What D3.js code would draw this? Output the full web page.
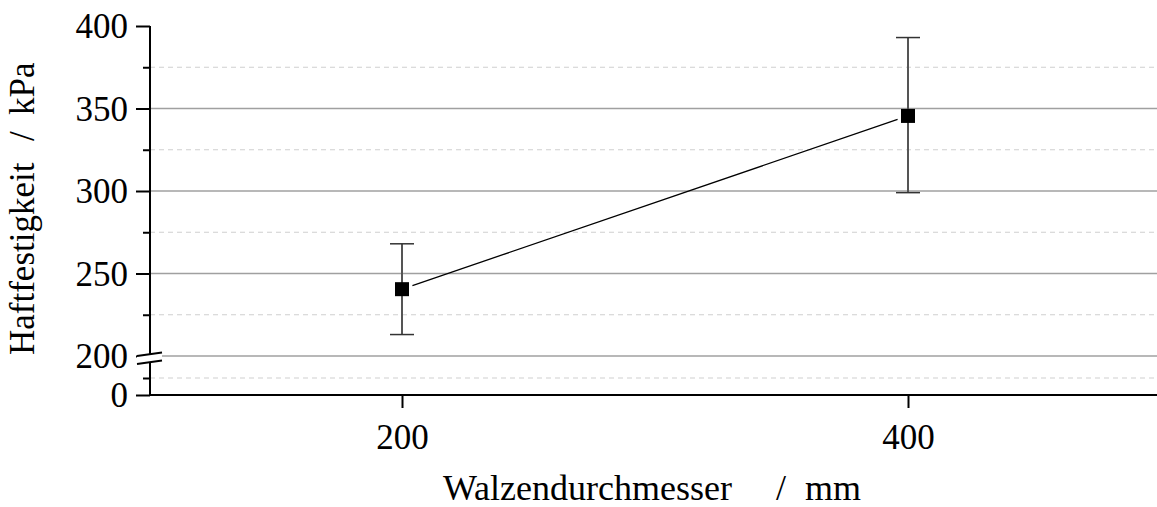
<!doctype html>
<html>
<head>
<meta charset="UTF-8">
<title>Haftfestigkeit</title>
<script src="https://d3js.org/d3.v7.min.js"></script>
<style>
  body { margin: 0; background: #fff; }
  text { font-family: "Liberation Serif", "Times New Roman", serif; fill: #000; }
</style>
</head>
<body>
<svg id="chart" width="1157" height="507"></svg>
<script>
// data
var durchmesser = [200, 400];
var festigkeit = [240.5, 345.5];
var fehlerOben = [268, 393];
var fehlerUnten = [213, 299];

var xTicks = [200, 400];
var yTicksOben = [200, 250, 300, 350, 400];
var yMinorOben = [225, 275, 325, 375];
var yTicksUnten = [0];
var yMinorUnten = [25];

var svg = d3.select("#chart");

var x = d3.scaleLinear().domain([100, 500]).range([149, 1161]);
var yOben = d3.scaleLinear().domain([200, 400]).range([356, 26]);
var yUnten = d3.scaleLinear().domain([0, 50]).range([395, 361]);

var left = 150, bottom = 395;

// grid upper part
svg.append("g").selectAll("line").data(yTicksOben.slice(0, 4))
  .join("line")
  .attr("x1", left).attr("x2", 1157)
  .attr("y1", d => yOben(d)).attr("y2", d => yOben(d))
  .attr("stroke", "#a0a0a0").attr("stroke-width", 1.3);

svg.append("g").selectAll("line").data(yMinorOben)
  .join("line")
  .attr("x1", left).attr("x2", 1157)
  .attr("y1", d => yOben(d)).attr("y2", d => yOben(d))
  .attr("stroke", "#d0d0d0").attr("stroke-width", 1.2)
  .attr("stroke-dasharray", "5,4");

svg.append("g").selectAll("line").data(yMinorUnten)
  .join("line")
  .attr("x1", left).attr("x2", 1157)
  .attr("y1", d => yUnten(d)).attr("y2", d => yUnten(d))
  .attr("stroke", "#d0d0d0").attr("stroke-width", 1.2)
  .attr("stroke-dasharray", "5,4");

// y axis upper
var axOben = svg.append("g").attr("transform", "translate(" + left + ",0)")
  .call(d3.axisLeft(yOben).tickValues(yTicksOben).tickSize(14).tickPadding(8).tickFormat(d3.format("d")));
var axObenMinor = svg.append("g").attr("transform", "translate(" + left + ",0)")
  .call(d3.axisLeft(yOben).tickValues(yMinorOben).tickSize(7).tickFormat(""));

var axUnten = svg.append("g").attr("transform", "translate(" + left + ",0)")
  .call(d3.axisLeft(yUnten).tickValues(yTicksUnten).tickSize(14).tickPadding(8).tickFormat(d3.format("d")));
var axUntenMinor = svg.append("g").attr("transform", "translate(" + left + ",0)")
  .call(d3.axisLeft(yUnten).tickValues(yMinorUnten).tickSize(7).tickFormat(""));

// x axis
var axX = svg.append("g").attr("transform", "translate(0," + bottom + ")")
  .call(d3.axisBottom(x).tickValues(xTicks).tickSize(13).tickFormat(d3.format("d")));

[axOben, axObenMinor, axUnten, axUntenMinor, axX].forEach(function(g) {
  g.select(".domain").remove();
  g.selectAll(".tick line").attr("stroke", "#000").attr("stroke-width", 2);
  g.selectAll("text").attr("font-size", 35).attr("font-family", "Liberation Serif").attr("fill", "#000");
});
axOben.selectAll("text").attr("dy", "0.34em");
axUnten.selectAll("text").attr("dy", "0.34em");
axX.selectAll("text").attr("y", 54).attr("dy", 0);

// axis lines
svg.append("line").attr("x1", left).attr("x2", left)
  .attr("y1", yOben(400)).attr("y2", bottom + 1)
  .attr("stroke", "#000").attr("stroke-width", 2);
svg.append("line").attr("x1", left - 1).attr("x2", 1157)
  .attr("y1", bottom).attr("y2", bottom)
  .attr("stroke", "#000").attr("stroke-width", 2);

// axis break
var bx1 = 137, bx2 = 162;
svg.append("polygon")
  .attr("points", [[bx1, 356], [bx2, 353], [bx2, 361], [bx1, 364]].join(" "))
  .attr("fill", "#fff");
svg.append("line").attr("x1", bx1).attr("y1", 356).attr("x2", bx2).attr("y2", 352.5)
  .attr("stroke", "#000").attr("stroke-width", 2);
svg.append("line").attr("x1", bx1).attr("y1", 364).attr("x2", bx2).attr("y2", 360.5)
  .attr("stroke", "#000").attr("stroke-width", 2);

// connecting line (gap at marker)
var p0 = [x(durchmesser[0]), yOben(festigkeit[0])];
var p1 = [x(durchmesser[1]), yOben(festigkeit[1])];
var dx = p1[0] - p0[0], dy = p1[1] - p0[1];
var len = Math.sqrt(dx * dx + dy * dy), gap = 11;
svg.append("line")
  .attr("x1", p0[0] + dx / len * gap).attr("y1", p0[1] + dy / len * gap)
  .attr("x2", p1[0] - dx / len * gap).attr("y2", p1[1] - dy / len * gap)
  .attr("stroke", "#000").attr("stroke-width", 1.3);

// error bars
var eb = svg.append("g");
durchmesser.forEach(function(d, i) {
  var cx = x(d);
  eb.append("line").attr("x1", cx).attr("x2", cx)
    .attr("y1", yOben(fehlerOben[i])).attr("y2", yOben(fehlerUnten[i]))
    .attr("stroke", "#555").attr("stroke-width", 2);
  [fehlerOben[i], fehlerUnten[i]].forEach(function(v) {
    eb.append("line").attr("x1", cx - 12).attr("x2", cx + 12)
      .attr("y1", yOben(v)).attr("y2", yOben(v))
      .attr("stroke", "#333").attr("stroke-width", 1.5);
  });
});

// markers
svg.append("g").selectAll("rect").data(durchmesser)
  .join("rect")
  .attr("x", d => x(d) - 7)
  .attr("y", (d, i) => yOben(festigkeit[i]) - 7)
  .attr("width", 14).attr("height", 14)
  .attr("fill", "#000");

// titles
var xt = svg.append("text").attr("y", 500).attr("font-size", 36);
xt.append("tspan").attr("x", 443).text("Walzendurchmesser");
xt.append("tspan").attr("x", 776).text("/");
xt.append("tspan").attr("x", 805).text("mm");

var yt = svg.append("text").attr("transform", "translate(34,0) rotate(-90)").attr("font-size", 35);
yt.append("tspan").attr("x", -355).text("Haftfestigkeit");
yt.append("tspan").attr("x", -141).text("/");
yt.append("tspan").attr("x", -115).text("kPa");
</script>
</body>
</html>
